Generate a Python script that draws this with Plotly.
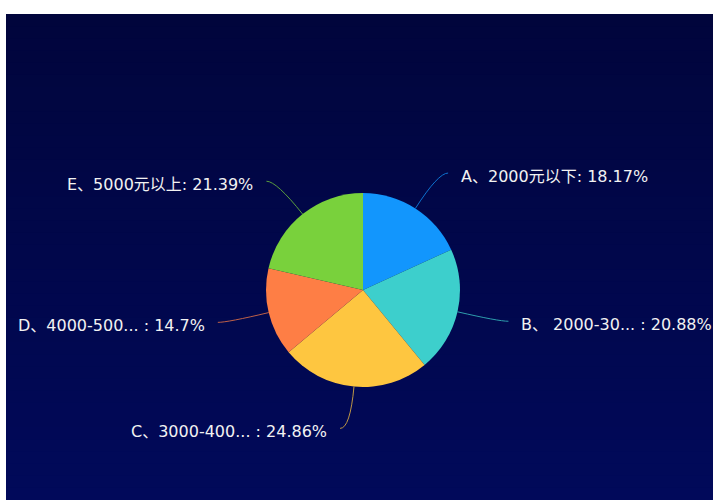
import math

from plotly import graph_objects as go

# data
names = ["A、2000元以下", "B、 2000-30... ", "C、3000-400... ", "D、4000-500... ", "E、5000元以上"]
shares = [18.17, 20.88, 24.86, 14.7, 21.39]
colors = ["#1296fd", "#3dcfcc", "#fec640", "#fe7e45", "#79d13c"]

W, H = 713, 500
CX, CY, R = 363, 290, 97  # pie centre / radius in px
LEN1, LEN2, GAP = 42, 10, 11


def px(x, y):
    return x / W, 1 - y / H


fig = go.Figure()
fig.add_trace(
    go.Pie(
        labels=names,
        values=shares,
        sort=False,
        direction="clockwise",
        rotation=0,
        textinfo="none",
        hoverinfo="label+percent",
        marker=dict(colors=colors, line=dict(width=0)),
        domain=dict(x=[(CX - R) / W, (CX + R) / W], y=[1 - (CY + R) / H, 1 - (CY - R) / H]),
        showlegend=False,
    )
)

# dark gradient panel (white strip left/top like the original screenshot)
shapes = []
steps = 40
top, bottom = (1, 5, 60), (1, 9, 90)
y0_px = 14
for i in range(steps):
    t = i / (steps - 1)
    c = tuple(round(top[k] + (bottom[k] - top[k]) * t) for k in range(3))
    ya = y0_px + (H - y0_px) * i / steps
    yb = y0_px + (H - y0_px) * (i + 1) / steps + 1
    shapes.append(dict(
        type="rect", xref="paper", yref="paper", layer="below",
        x0=6 / W, x1=1, y0=1 - min(yb, H) / H, y1=1 - ya / H,
        fillcolor="rgb(%d,%d,%d)" % c, line=dict(width=0),
    ))
for x0, x1, y0, y1 in ((0, 1, 1 - y0_px / H, 1), (0, 6 / W, 0, 1)):
    shapes.append(dict(
        type="rect", xref="paper", yref="paper", layer="below",
        x0=x0, x1=x1, y0=y0, y1=y1, fillcolor="white", line=dict(width=0),
    ))

annotations = []
total = sum(shares)
cum = 0.0
for name, val, col in zip(names, shares, colors):
    mid = (cum + val / 2) / total * 2 * math.pi
    cum += val
    sx, sy = math.sin(mid), -math.cos(mid)
    ex, ey = CX + R * sx, CY + R * sy
    mx, my = CX + (R + LEN1) * sx, CY + (R + LEN1) * sy
    side = 1 if sx >= 0 else -1
    tx, ty = mx + side * LEN2, my
    p0, p1, p2 = px(ex, ey), px(mx, my), px(tx, ty)
    shapes.append(dict(
        type="path", xref="paper", yref="paper", layer="above",
        path="M %f,%f Q %f,%f %f,%f" % (p0[0], p0[1], p1[0], p1[1], p2[0], p2[1]),
        line=dict(color=col, width=1), opacity=0.75,
    ))
    lx, ly = px(tx + side * GAP, ty)
    annotations.append(dict(
        x=lx, y=ly, xref="paper", yref="paper", showarrow=False,
        xanchor="left" if side > 0 else "right", yanchor="middle", yshift=-3,
        text=f"{name}: {val}%",
        font=dict(family="DejaVu Sans, Noto Sans CJK SC", size=16, color="#f2f2f2"),
    ))

fig.update_layout(
    width=W,
    height=H,
    autosize=False,
    margin=dict(l=0, r=0, t=0, b=0, pad=0),
    paper_bgcolor="rgb(1,7,75)",
    shapes=shapes,
    annotations=annotations,
)

fig.write_html(
    "out.html",
    config={"displayModeBar": False, "responsive": False},
    post_script=(
        "document.body.style.margin='0';"
        "document.body.style.overflow='hidden';"
        "document.documentElement.style.overflow='hidden';"
        "document.body.style.background='rgb(1,8,80)';"
        "document.documentElement.style.background='rgb(1,8,80)';"
    ),
)
